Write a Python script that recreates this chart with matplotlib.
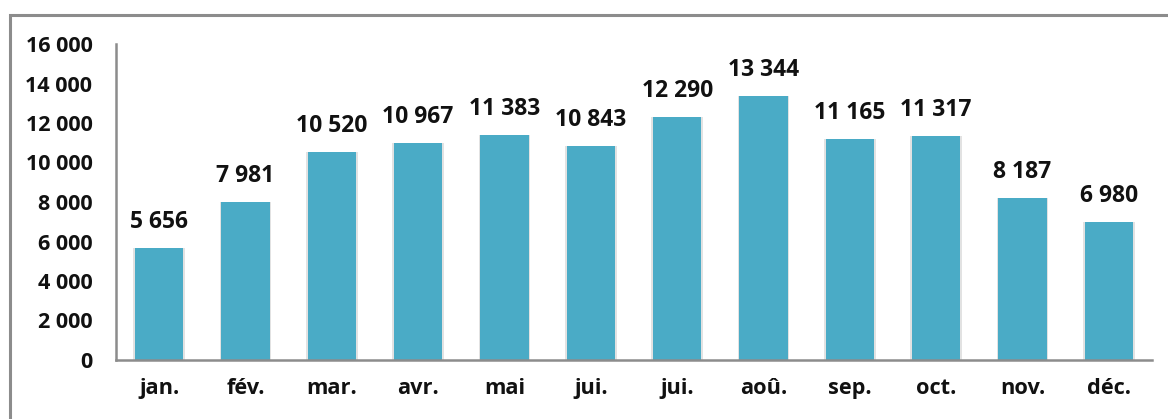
import matplotlib
matplotlib.use("Agg")
import matplotlib.pyplot as plt
from matplotlib.patches import Rectangle
from matplotlib.ticker import FuncFormatter

months = ["jan.", "fév.", "mar.", "avr.", "mai", "jui.", "jui.", "aoû.", "sep.", "oct.", "nov.", "déc."]
values = [5656, 7981, 10520, 10967, 11383, 10843, 12290, 13344, 11165, 11317, 8187, 6980]
yticks = [0, 2000, 4000, 6000, 8000, 10000, 12000, 14000, 16000]

plt.rcParams['font.family'] = ['Open Sans', 'DejaVu Sans']
W, H = 1168, 419
fig = plt.figure(figsize=(W / 100, H / 100), dpi=100)
fig.patch.set_facecolor("white")

# outer border (only top and left visible)
fig.patches.append(Rectangle((10 / W, -0.5), 2.0, (H - 15) / H + 0.5,
                             transform=fig.transFigure, fill=False,
                             edgecolor="#8c8c8c", linewidth=2.2, zorder=0))

ax = fig.add_axes([116 / W, 59 / H, (1152 - 116) / W, (360 - 44) / H])
x = list(range(len(months)))
ax.bar(x, values, width=0.6, color="#e2e2e2", zorder=1)
ax.bar(x, values, width=0.56, color="#4aabc6", zorder=2)

fmt = lambda v: f"{int(v):,}".replace(",", " ")
for xi, v in zip(x, values):
    ax.annotate(fmt(v), (xi, v), xytext=(0, 14.5), textcoords="offset points",
                ha="center", va="baseline", fontsize=16.5, fontweight="bold",
                color="#111111")

ax.set_xlim(-0.5, len(months) - 0.5)
ax.set_ylim(0, 16000)
ax.set_yticks(yticks)
ax.yaxis.set_major_formatter(FuncFormatter(lambda v, p: fmt(v)))
ax.set_xticks(x)
ax.set_xticklabels(months)
for s in ["top", "right"]:
    ax.spines[s].set_visible(False)
for s in ["left", "bottom"]:
    ax.spines[s].set_color("#8c8c8c")
    ax.spines[s].set_linewidth(1.8)
ax.tick_params(axis="y", length=0, pad=17, labelsize=15.5)
ax.tick_params(axis="x", length=0, pad=13, labelsize=15.7)
for lab in ax.get_xticklabels() + ax.get_yticklabels():
    lab.set_fontweight("bold")
    lab.set_color("#111111")

fig.savefig("out.png", dpi=100, facecolor="white")
